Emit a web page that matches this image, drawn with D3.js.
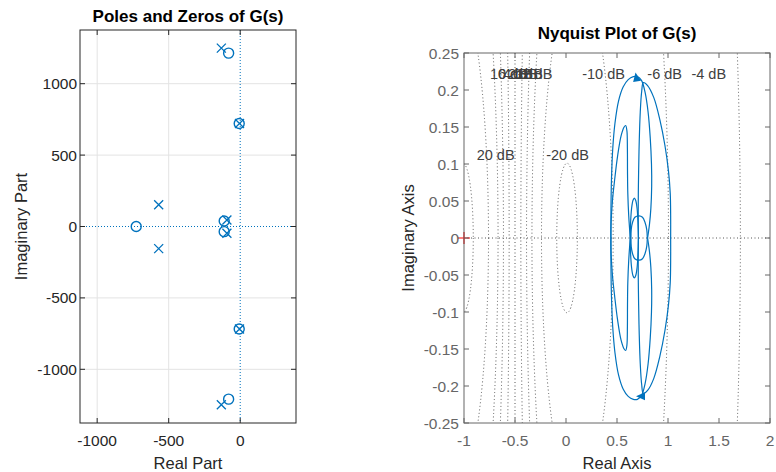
<!DOCTYPE html>
<html><head><meta charset="utf-8">
<script src="https://cdn.jsdelivr.net/npm/d3@7"></script>
<style>
html,body{margin:0;padding:0;background:#fff;}
svg{display:block;font-family:"Liberation Sans",Arial,sans-serif;}
</style></head><body>
<svg id="chart" width="776" height="472"></svg>
<script>
// ---------- Pole-zero map data ----------
const poleRe = [-132, -132, -5, -5, -570, -570, -93, -93];
const poleIm = [1249, -1248, 721, -718, 152, -155, 46, -47];
const zeroRe = [-81, -81, -7, -7, -727, -112, -112];
const zeroIm = [1214, -1209, 721, -718, 0, 38, -36];
const pzXTicks = [-1000, -500, 0];
const pzYTicks = [-1000, -500, 0, 500, 1000];

// ---------- Nyquist data ----------
const nyqXTicks = [-1, -0.5, 0, 0.5, 1, 1.5, 2];
const nyqYTicks = [-0.25, -0.2, -0.15, -0.1, -0.05, 0, 0.05, 0.1, 0.15, 0.2, 0.25];
const gridDb = [20, 10, 6, 4, 2, 0, -2, -4, -6, -10, -20];
const gridLabelText = ["20 dB", "10 dB", "6 dB", "4 dB", "2 dB", "0 dB", "-2 dB", "-4 dB", "-6 dB", "-10 dB", "-20 dB"];
const gridLabelX = [-0.69, -0.559, -0.52, -0.471, -0.422, -0.373, -0.304, 1.40, 0.967, 0.368, 0.015];
const gridLabelY = [0.112, 0.2216, 0.2216, 0.2216, 0.2216, 0.2216, 0.2216, 0.2216, 0.2216, 0.2216, 0.112];
// upper-half arches of the Nyquist curve (real, imag); lower half is the conjugate branch
const archARe = [0.44, 0.441, 0.446, 0.458, 0.48, 0.515, 0.56, 0.61, 0.66, 0.70, 0.74, 0.775, 0.805, 0.826, 0.838, 0.84, 0.832, 0.818, 0.80];
const archAIm = [0, 0.04, 0.08, 0.12, 0.155, 0.185, 0.204, 0.214, 0.218, 0.218, 0.213, 0.197, 0.17, 0.135, 0.10, 0.07, 0.04, 0.018, 0];
const archBRe = [0.71, 0.708, 0.709, 0.712, 0.718, 0.728, 0.742, 0.758, 0.80, 0.86, 0.92, 0.97, 1.005, 1.022, 1.026, 1.026];
const archBIm = [0, 0.03, 0.06, 0.09, 0.13, 0.17, 0.198, 0.21, 0.206, 0.19, 0.16, 0.125, 0.09, 0.06, 0.03, 0];
const archCRe = [0.44, 0.442, 0.455, 0.478, 0.505, 0.54, 0.57, 0.585, 0.597, 0.602, 0.603, 0.606, 0.615, 0.63];
const archCIm = [0, 0.02, 0.05, 0.08, 0.11, 0.138, 0.15, 0.152, 0.145, 0.12, 0.09, 0.06, 0.03, 0];
const archDRe = [0.63, 0.633, 0.643, 0.657, 0.67, 0.683, 0.697, 0.706, 0.71];
const archDIm = [0, 0.02, 0.04, 0.051, 0.054, 0.051, 0.04, 0.02, 0];
const archERe = [0.637, 0.64, 0.652, 0.675, 0.716, 0.75, 0.775, 0.792, 0.797];
const archEIm = [0, 0.012, 0.021, 0.028, 0.030, 0.028, 0.021, 0.011, 0];

const svg = d3.select("#chart");
const blue = "#0072BD";
const axisCol = "#262626";

function drawTicks(g, x, y, xt, yt, fmt, X0, X1, Y0, Y1, tickCol, labCol, yGap) {
  const tl = 5;
  xt.forEach(v => {
    const px = x(v);
    g.append("line").attr("x1", px).attr("x2", px).attr("y1", Y1).attr("y2", Y1 - tl).attr("stroke", tickCol);
    g.append("line").attr("x1", px).attr("x2", px).attr("y1", Y0).attr("y2", Y0 + tl).attr("stroke", tickCol);
    g.append("text").attr("x", px).attr("y", Y1 + 17).attr("text-anchor", "middle").attr("dominant-baseline", "central")
      .attr("font-size", 15.5).attr("fill", labCol).text(fmt(v));
  });
  yt.forEach(v => {
    const py = y(v);
    g.append("line").attr("x1", X0).attr("x2", X0 + tl).attr("y1", py).attr("y2", py).attr("stroke", tickCol);
    g.append("line").attr("x1", X1).attr("x2", X1 - tl).attr("y1", py).attr("y2", py).attr("stroke", tickCol);
    g.append("text").attr("x", X0 - yGap).attr("y", py).attr("text-anchor", "end").attr("dominant-baseline", "central")
      .attr("font-size", 15.5).attr("fill", labCol).text(fmt(v));
  });
}
const fmtNum = v => (v < 0 ? "-" : "") + d3.format("~g")(Math.abs(v));

// ================= LEFT: pole-zero map =================
{
  const X0 = 80, X1 = 296, Y0 = 30, Y1 = 423;
  const x = d3.scaleLinear().domain([-1120, 390]).range([X0, X1]);
  const y = d3.scaleLinear().domain([-1376, 1376]).range([Y1, Y0]);
  const g = svg.append("g");
  g.append("rect").attr("x", X0).attr("y", Y0).attr("width", X1 - X0).attr("height", Y1 - Y0).attr("fill", "#fff");
  pzXTicks.filter(v => v !== 0).forEach(v => g.append("line").attr("x1", x(v)).attr("x2", x(v)).attr("y1", Y0).attr("y2", Y1).attr("stroke", "#e3e3e3"));
  pzYTicks.filter(v => v !== 0).forEach(v => g.append("line").attr("x1", X0).attr("x2", X1).attr("y1", y(v)).attr("y2", y(v)).attr("stroke", "#e3e3e3"));
  g.append("line").attr("x1", x(0)).attr("x2", x(0)).attr("y1", Y0).attr("y2", Y1).attr("stroke", blue).attr("stroke-dasharray", "1,2");
  g.append("line").attr("x1", X0).attr("x2", X1).attr("y1", y(0)).attr("y2", y(0)).attr("stroke", blue).attr("stroke-dasharray", "1,2");
  zeroRe.forEach((r, i) => g.append("circle").attr("cx", x(r)).attr("cy", y(zeroIm[i])).attr("r", 5)
    .attr("fill", "none").attr("stroke", blue).attr("stroke-width", 1.4));
  const s = 4.5;
  poleRe.forEach((r, i) => {
    const cx = x(r), cy = y(poleIm[i]);
    g.append("path").attr("d", `M${cx - s},${cy - s}L${cx + s},${cy + s}M${cx - s},${cy + s}L${cx + s},${cy - s}`)
      .attr("stroke", blue).attr("stroke-width", 1.3).attr("fill", "none");
  });
  g.append("rect").attr("x", X0).attr("y", Y0).attr("width", X1 - X0).attr("height", Y1 - Y0).attr("fill", "none").attr("stroke", axisCol);
  drawTicks(g, x, y, pzXTicks, pzYTicks, fmtNum, X0, X1, Y0, Y1, axisCol, axisCol, 3);
  g.append("text").attr("x", (X0 + X1) / 2).attr("y", 22).attr("text-anchor", "middle").attr("font-size", 17).attr("font-weight", "bold").attr("fill", "#000").text("Poles and Zeros of G(s)");
  g.append("text").attr("x", (X0 + X1) / 2).attr("y", 469).attr("text-anchor", "middle").attr("font-size", 16.5).attr("fill", axisCol).text("Real Part");
  g.append("text").attr("transform", `translate(27,${(Y0 + Y1) / 2}) rotate(-90)`).attr("text-anchor", "middle").attr("font-size", 16.5).attr("fill", axisCol).text("Imaginary Part");
}

// ================= RIGHT: Nyquist =================
{
  const X0 = 464, X1 = 770, Y0 = 53, Y1 = 423;
  const x = d3.scaleLinear().domain([-1, 2]).range([X0, X1]);
  const y = d3.scaleLinear().domain([-0.25, 0.25]).range([Y1, Y0]);
  const g = svg.append("g");
  svg.append("clipPath").attr("id", "nyqclip").append("rect").attr("x", X0).attr("y", Y0).attr("width", X1 - X0).attr("height", Y1 - Y0);
  const inner = g.append("g").attr("clip-path", "url(#nyqclip)");
  const gridCol = "#555";
  const dash = "1,2.5";
  gridDb.forEach(db => {
    if (db === 0) {
      inner.append("line").attr("x1", x(-0.5)).attr("x2", x(-0.5)).attr("y1", Y0).attr("y2", Y1)
        .attr("stroke", gridCol).attr("stroke-width", 1).attr("stroke-dasharray", dash);
      return;
    }
    const M = Math.pow(10, db / 20), M2 = M * M;
    const c = -M2 / (M2 - 1), rad = Math.abs(M / (M2 - 1));
    inner.append("ellipse").attr("cx", x(c)).attr("cy", y(0))
      .attr("rx", Math.abs(x(c + rad) - x(c))).attr("ry", Math.abs(y(rad) - y(0)))
      .attr("fill", "none").attr("stroke", gridCol).attr("stroke-width", 1).attr("stroke-dasharray", dash);
  });
  inner.append("line").attr("x1", X0).attr("x2", X1).attr("y1", y(0)).attr("y2", y(0))
    .attr("stroke", gridCol).attr("stroke-width", 1).attr("stroke-dasharray", dash);
  gridLabelText.forEach((t, i) => {
    inner.append("text").attr("x", x(gridLabelX[i])).attr("y", y(gridLabelY[i])).attr("text-anchor", "middle")
      .attr("dominant-baseline", "central").attr("font-size", 14.5).attr("fill", "#404040").text(t);
  });
  const line = d3.line().x(d => x(d[0])).y(d => y(d[1])).curve(d3.curveCatmullRom.alpha(0.5));
  const arches = [[archARe, archAIm], [archBRe, archBIm], [archCRe, archCIm], [archDRe, archDIm], [archERe, archEIm]];
  arches.forEach(([re, im]) => {
    const up = re.map((r, i) => [r, im[i]]);
    const dn = re.map((r, i) => [r, -im[i]]);
    [up, dn].forEach(pts => inner.append("path").attr("d", line(pts)).attr("fill", "none").attr("stroke", blue).attr("stroke-width", 1.2));
  });
  const arrow = (px, py, ang) => inner.append("path").attr("d", "M5,0L-4,-4L-4,4Z")
    .attr("transform", `translate(${px},${py}) rotate(${ang})`).attr("fill", blue);
  arrow(x(0.69), y(0.217), -100);
  arrow(x(0.735), y(-0.214), 180);
  g.append("path").attr("d", `M${x(-1) - 6},${y(0)}H${x(-1) + 6}M${x(-1)},${y(0) - 6}V${y(0) + 6}`).attr("stroke", "#ff0000").attr("stroke-width", 1.2);
  g.append("rect").attr("x", X0).attr("y", Y0).attr("width", X1 - X0).attr("height", Y1 - Y0).attr("fill", "none").attr("stroke", "#666");
  drawTicks(g, x, y, nyqXTicks, nyqYTicks, fmtNum, X0, X1, Y0, Y1, "#666", "#666", 5);
  g.append("text").attr("x", (X0 + X1) / 2).attr("y", 39).attr("text-anchor", "middle").attr("font-size", 17).attr("font-weight", "bold").attr("fill", "#000").text("Nyquist Plot of G(s)");
  g.append("text").attr("x", (X0 + X1) / 2).attr("y", 469).attr("text-anchor", "middle").attr("font-size", 16.5).attr("fill", "#262626").text("Real Axis");
  g.append("text").attr("transform", `translate(414,${(Y0 + Y1) / 2}) rotate(-90)`).attr("text-anchor", "middle").attr("font-size", 16.5).attr("fill", "#262626").text("Imaginary Axis");
}
</script></body></html>
